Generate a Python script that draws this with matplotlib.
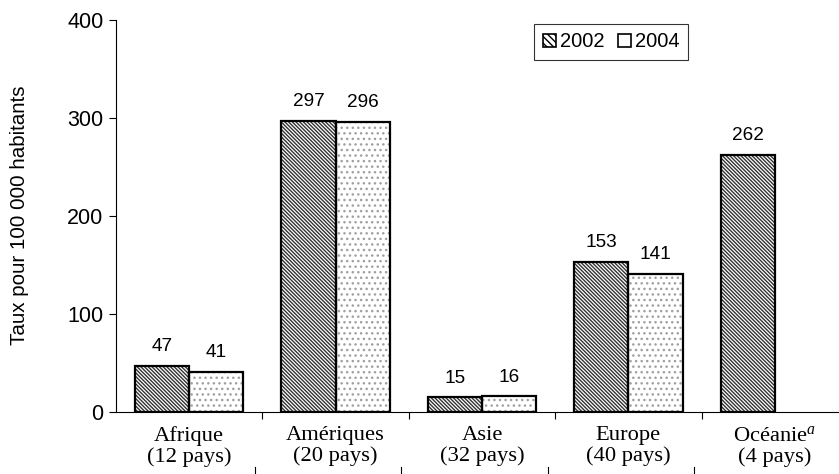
import matplotlib
matplotlib.use("Agg")
import matplotlib.pyplot as plt
import matplotlib.transforms as mtransforms
from matplotlib.patches import Patch
import numpy as np

categories = ["Afrique\n(12 pays)", "Amériques\n(20 pays)", "Asie\n(32 pays)",
              "Europe\n(40 pays)", "Océanie$^{a}$\n(4 pays)"]
vals_2002 = [47, 297, 15, 153, 262]
vals_2004 = [41, 296, 16, 141, None]
series_names = ["2002", "2004"]
yticks = [0, 100, 200, 300, 400]

plt.rcParams['hatch.linewidth'] = 1.0
plt.rcParams['mathtext.fontset'] = 'custom'
plt.rcParams['mathtext.it'] = 'Liberation Serif:italic'
plt.rcParams['mathtext.rm'] = 'Liberation Serif'
fig = plt.figure(figsize=(8.39, 4.74), dpi=100)
W, H = 839, 474
left, right, top, bottom = 116, 848, 20, 412
ax = fig.add_axes([left / W, 1 - bottom / H, (right - left) / W, (bottom - top) / H])

x = np.arange(len(categories))
bw = 0.37
sans = "Liberation Sans"
serif = "Liberation Serif"
HATCH1 = "\\" * 9

for i, v in enumerate(vals_2002):
    ax.bar(x[i] - bw / 2, v, bw, facecolor="white", edgecolor="#333333",
           hatch=HATCH1, linewidth=0, zorder=2)
    ax.bar(x[i] - bw / 2, v, bw, facecolor="none", edgecolor="black",
           linewidth=1.6, zorder=3)
    ax.text(x[i] - bw / 2, v + 11, str(v), ha="center", va="bottom",
            fontsize=13.7, family=sans)
for i, v in enumerate(vals_2004):
    if v is None:
        continue
    ax.bar(x[i] + bw / 2, v, bw, facecolor="white", edgecolor="#a0a0a0",
           hatch="...", linewidth=0, zorder=2)
    ax.bar(x[i] + bw / 2, v, bw, facecolor="none", edgecolor="black",
           linewidth=1.6, zorder=3)
    ax.text(x[i] + bw / 2, v + 11, str(v), ha="center", va="bottom",
            fontsize=13.7, family=sans)

ax.set_xlim(-0.5, len(categories) - 0.5)
ax.set_ylim(0, 400)
ax.set_yticks(yticks)
ax.set_yticklabels([str(t) for t in yticks], fontsize=15.5, family=sans)
ax.tick_params(axis="y", direction="out", length=5, width=0.8, pad=4)
ax.set_xticks(x)
ax.set_xticklabels(categories, fontsize=16.2, family=serif, linespacing=1.12)
ax.tick_params(axis="x", length=0, pad=10)
ax.set_xticks(np.arange(len(categories) - 1) + 0.5, minor=True)
ax.tick_params(axis="x", which="minor", direction="out", length=5, width=0.8)

for s in ["top", "right"]:
    ax.spines[s].set_visible(False)
for s in ["left", "bottom"]:
    ax.spines[s].set_linewidth(0.8)

fig.text(20 / W, 1 - 215 / H, "Taux pour 100 000 habitants", rotation=90,
         ha="center", va="center", fontsize=14.8, family=sans)

# stray second-row tick marks below labels
trans = mtransforms.blended_transform_factory(ax.transData, ax.transAxes)
for b in np.arange(len(categories) - 1) + 0.45:
    ax.plot([b, b], [-0.14, -0.17], color="black", lw=0.8, transform=trans, clip_on=False)

h1 = Patch(facecolor="white", edgecolor="black", hatch="\\\\\\\\\\", linewidth=1.2)
h2 = Patch(facecolor="white", edgecolor="black", linewidth=1.2)
leg = ax.legend([h1, h2], series_names, loc="upper right",
                bbox_to_anchor=((688 - left) / (right - left), 1 - 4 / (bottom - top)),
                borderaxespad=0,
                ncol=2, frameon=True, fancybox=False, edgecolor="black",
                prop={"family": sans, "size": 14.5}, handlelength=0.65, handleheight=0.65,
                handletextpad=0.18, columnspacing=0.7, borderpad=0.42)
leg.get_frame().set_linewidth(0.8)

fig.savefig("out.png", dpi=100)
